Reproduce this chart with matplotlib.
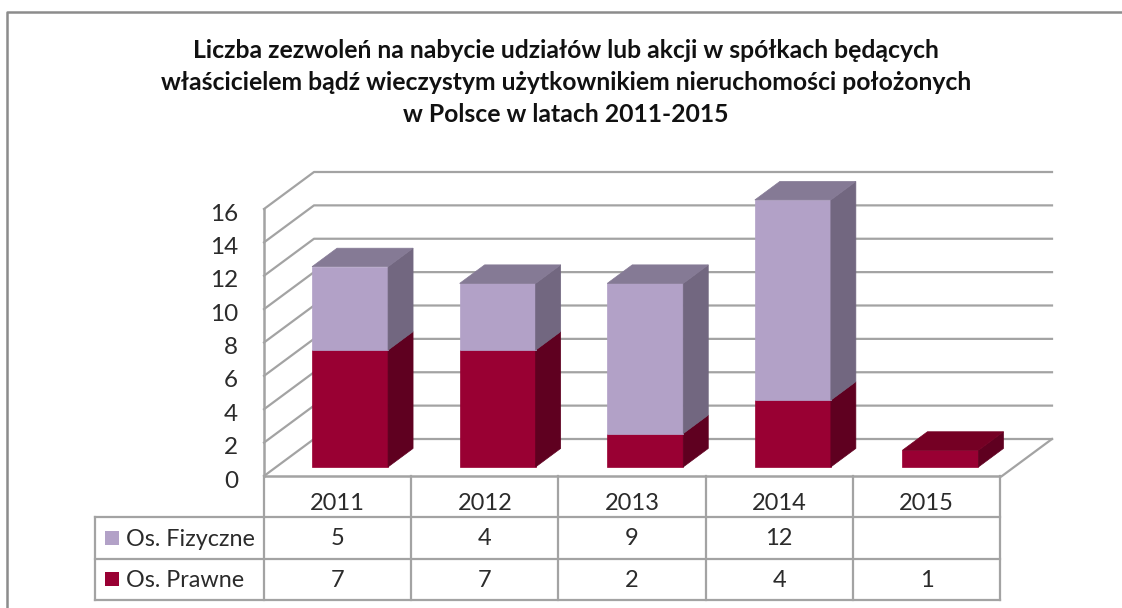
import matplotlib
matplotlib.use("Agg")
import matplotlib.pyplot as plt
import numpy as np

plt.rcParams['font.family'] = ['Lato', 'DejaVu Sans']

years = ['2011', '2012', '2013', '2014', '2015']
fizyczne = [5, 4, 9, 12, 0]
prawne = [7, 7, 2, 4, 1]
fizyczne_labels = ['5', '4', '9', '12', '']
prawne_labels = ['7', '7', '2', '4', '1']
y_ticks = [0, 2, 4, 6, 8, 10, 12, 14, 16]
title_lines = [
    'Liczba zezwoleń na nabycie udziałów lub akcji w spółkach będących',
    'właścicielem bądź wieczystym użytkownikiem nieruchomości położonych',
    'w Polsce w latach 2011-2015',
]

W, H = 1122, 608
GRID = '#a3a3a3'
TEXT = '#2b2b2b'

# front plane of the chart box, in pixels
LEFT, RIGHT, BOTTOM, TOP = 264, 1002, 476, 209
DX_PX, DY_PX = 50, 37  # full depth of the box

fig = plt.figure(figsize=(W / 100, H / 100), dpi=100, facecolor='white')
ax = fig.add_axes([LEFT / W, 1 - BOTTOM / H, (RIGHT - LEFT) / W, (BOTTOM - TOP) / H])
ax.set_xlim(0, 5)
ax.set_ylim(0, 16)
ax.axis('off')

# depth offsets in data units
dx = DX_PX / ((RIGHT - LEFT) / 5)
dy = DY_PX / ((BOTTOM - TOP) / 16)

# walls
for v in y_ticks:
    ax.plot([0, dx, 5 + dx], [v, v + dy, v + dy], color=GRID, lw=1.6, clip_on=False, zorder=1)
ax.plot([0, 0], [0, 16], color=GRID, lw=1.8, clip_on=False, zorder=1)
ax.plot([5, 5 + dx], [0, dy], color=GRID, lw=1.6, clip_on=False, zorder=1)

bar_w = 0.515
bar_off = 0.245   # how far the bar front stands behind the box front
bar_depth = 0.5


def draw_segment(i, low, high, face, side, top=None):
    x0 = i + 0.5 - bar_w / 2 + bar_off * dx
    y0 = low + bar_off * dy
    h = high - low
    ddx = bar_depth * dx
    ddy = bar_depth * dy
    ax.bar(x0, h, width=bar_w, bottom=y0, align='edge', color=face,
           edgecolor=face, lw=0.5, clip_on=False, zorder=3)
    x1 = x0 + bar_w
    ax.fill([x1, x1 + ddx, x1 + ddx, x1], [y0, y0 + ddy, y0 + h + ddy, y0 + h],
            color=side, lw=0.5, clip_on=False, zorder=3)
    if top is not None:
        ax.fill([x0, x1, x1 + ddx, x0 + ddx],
                [y0 + h, y0 + h, y0 + h + ddy, y0 + h + ddy],
                color=top, lw=0.5, clip_on=False, zorder=3)


for i in range(len(years)):
    has_upper = fizyczne[i] > 0
    draw_segment(i, 0, prawne[i], '#990033', '#5f0020', None if has_upper else '#750024')
    if has_upper:
        draw_segment(i, prawne[i], prawne[i] + fizyczne[i], '#b2a1c7', '#726780', '#857a95')

for v in y_ticks:
    ax.text(-0.175, v - 0.3, str(v), ha='right', va='center', fontsize=17.5, color=TEXT, clip_on=False)

# page level stuff: frame, title, data table
page = fig.add_axes([0, 0, 1, 1], facecolor='none')
page.set_xlim(0, W)
page.set_ylim(H, 0)
page.axis('off')

page.plot([7, 7, W], [H, 12, 12], color='#8c8c8c', lw=1.8)

for line, y in zip(title_lines, [50, 83, 115]):
    page.text(566, y, line, ha='center', va='center', fontsize=17.8, fontweight='bold', color='#111111')

col_x = np.linspace(264, 1000, 6)
row_y = [476, 517, 559, 600]
for x in col_x:
    page.plot([x, x], [row_y[0], row_y[3]], color=GRID, lw=1.6)
page.plot([264, 1000], [row_y[0], row_y[0]], color=GRID, lw=1.8)
for y in row_y[1:]:
    page.plot([95, 1000], [y, y], color=GRID, lw=1.6)
page.plot([95, 95], [row_y[1], row_y[3]], color=GRID, lw=1.6)

for i, year in enumerate(years):
    cx = (col_x[i] + col_x[i + 1]) / 2
    page.text(cx, 503.5, year, ha='center', va='center', fontsize=17, color=TEXT)
    page.text(cx, 538.5, fizyczne_labels[i], ha='center', va='center', fontsize=17, color=TEXT)
    page.text(cx, 580.5, prawne_labels[i], ha='center', va='center', fontsize=17, color=TEXT)

for name, color, y in [('Os. Fizyczne', '#b2a1c7', 538), ('Os. Prawne', '#990033', 579)]:
    page.fill([105, 119, 119, 105], [y - 7, y - 7, y + 7, y + 7], color=color, lw=0)
    page.text(126, y + 1.5, name, ha='left', va='center', fontsize=16.8, color=TEXT)

fig.savefig('out.png', dpi=100)
